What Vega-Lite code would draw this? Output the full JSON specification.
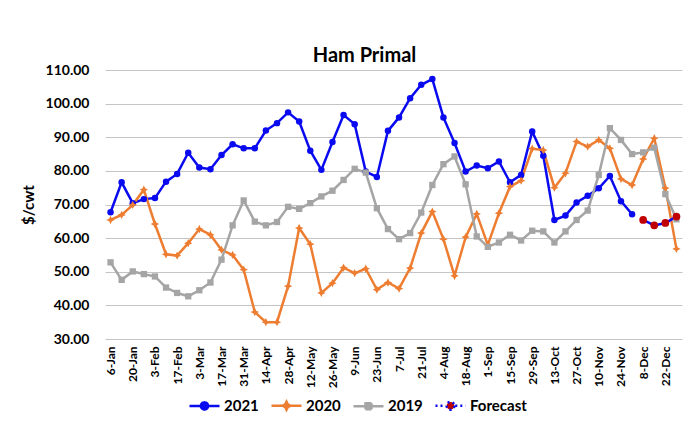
{
  "$schema": "https://vega.github.io/schema/vega-lite/v6.json",
  "width": 577,
  "height": 269,
  "autosize": {"type": "none"},
  "padding": {"left": 105, "top": 70, "right": 12, "bottom": 105},
  "background": "white",
  "config": {"view": {"stroke": null}, "font": "Lato"},
  "title": {
    "text": "Ham Primal",
    "font": "Lato",
    "fontSize": 20,
    "fontWeight": "bold",
    "color": "#000000",
    "anchor": "middle",
    "dx": -29,
    "dy": 27,
    "baseline": "alphabetic",
    "offset": 8
  },
  "data": {
    "values": [
      {"s": "2021", "w": "6-Jan", "v": 67.7}, {"s": "2021", "w": "13-Jan", "v": 76.6}, {"s": "2021", "w": "20-Jan", "v": 70.4}, {"s": "2021", "w": "27-Jan", "v": 71.6},
      {"s": "2021", "w": "3-Feb", "v": 71.9}, {"s": "2021", "w": "10-Feb", "v": 76.8}, {"s": "2021", "w": "17-Feb", "v": 79.1}, {"s": "2021", "w": "24-Feb", "v": 85.4},
      {"s": "2021", "w": "3-Mar", "v": 81.0}, {"s": "2021", "w": "10-Mar", "v": 80.5}, {"s": "2021", "w": "17-Mar", "v": 84.7}, {"s": "2021", "w": "24-Mar", "v": 87.9},
      {"s": "2021", "w": "31-Mar", "v": 86.7}, {"s": "2021", "w": "7-Apr", "v": 86.7}, {"s": "2021", "w": "14-Apr", "v": 92.0}, {"s": "2021", "w": "21-Apr", "v": 94.2},
      {"s": "2021", "w": "28-Apr", "v": 97.4}, {"s": "2021", "w": "5-May", "v": 94.7}, {"s": "2021", "w": "12-May", "v": 86.0}, {"s": "2021", "w": "19-May", "v": 80.3},
      {"s": "2021", "w": "26-May", "v": 88.6}, {"s": "2021", "w": "2-Jun", "v": 96.6}, {"s": "2021", "w": "9-Jun", "v": 93.9}, {"s": "2021", "w": "16-Jun", "v": 79.8},
      {"s": "2021", "w": "23-Jun", "v": 78.2}, {"s": "2021", "w": "30-Jun", "v": 91.9}, {"s": "2021", "w": "7-Jul", "v": 95.9}, {"s": "2021", "w": "14-Jul", "v": 101.6},
      {"s": "2021", "w": "21-Jul", "v": 105.6}, {"s": "2021", "w": "28-Jul", "v": 107.3}, {"s": "2021", "w": "4-Aug", "v": 95.9}, {"s": "2021", "w": "11-Aug", "v": 88.3},
      {"s": "2021", "w": "18-Aug", "v": 79.8}, {"s": "2021", "w": "25-Aug", "v": 81.6}, {"s": "2021", "w": "1-Sep", "v": 80.8}, {"s": "2021", "w": "8-Sep", "v": 82.8},
      {"s": "2021", "w": "15-Sep", "v": 76.6}, {"s": "2021", "w": "22-Sep", "v": 78.8}, {"s": "2021", "w": "29-Sep", "v": 91.7}, {"s": "2021", "w": "6-Oct", "v": 84.5},
      {"s": "2021", "w": "13-Oct", "v": 65.4}, {"s": "2021", "w": "20-Oct", "v": 66.7}, {"s": "2021", "w": "27-Oct", "v": 70.6}, {"s": "2021", "w": "3-Nov", "v": 72.6},
      {"s": "2021", "w": "10-Nov", "v": 74.8}, {"s": "2021", "w": "17-Nov", "v": 78.5}, {"s": "2021", "w": "24-Nov", "v": 71.0}, {"s": "2021", "w": "1-Dec", "v": 67.1},

      {"s": "2020", "w": "6-Jan", "v": 65.4}, {"s": "2020", "w": "13-Jan", "v": 66.9}, {"s": "2020", "w": "20-Jan", "v": 69.9}, {"s": "2020", "w": "27-Jan", "v": 74.4},
      {"s": "2020", "w": "3-Feb", "v": 64.2}, {"s": "2020", "w": "10-Feb", "v": 55.2}, {"s": "2020", "w": "17-Feb", "v": 54.8}, {"s": "2020", "w": "24-Feb", "v": 58.5},
      {"s": "2020", "w": "3-Mar", "v": 62.7}, {"s": "2020", "w": "10-Mar", "v": 61.0}, {"s": "2020", "w": "17-Mar", "v": 56.5}, {"s": "2020", "w": "24-Mar", "v": 55.0},
      {"s": "2020", "w": "31-Mar", "v": 50.6}, {"s": "2020", "w": "7-Apr", "v": 38.0}, {"s": "2020", "w": "14-Apr", "v": 35.0}, {"s": "2020", "w": "21-Apr", "v": 35.0},
      {"s": "2020", "w": "28-Apr", "v": 45.7}, {"s": "2020", "w": "5-May", "v": 63.0}, {"s": "2020", "w": "12-May", "v": 58.2}, {"s": "2020", "w": "19-May", "v": 43.7},
      {"s": "2020", "w": "26-May", "v": 46.6}, {"s": "2020", "w": "2-Jun", "v": 51.2}, {"s": "2020", "w": "9-Jun", "v": 49.6}, {"s": "2020", "w": "16-Jun", "v": 50.9},
      {"s": "2020", "w": "23-Jun", "v": 44.7}, {"s": "2020", "w": "30-Jun", "v": 46.8}, {"s": "2020", "w": "7-Jul", "v": 45.0}, {"s": "2020", "w": "14-Jul", "v": 51.1},
      {"s": "2020", "w": "21-Jul", "v": 61.5}, {"s": "2020", "w": "28-Jul", "v": 67.9}, {"s": "2020", "w": "4-Aug", "v": 59.7}, {"s": "2020", "w": "11-Aug", "v": 48.8},
      {"s": "2020", "w": "18-Aug", "v": 60.3}, {"s": "2020", "w": "25-Aug", "v": 67.2}, {"s": "2020", "w": "1-Sep", "v": 58.0}, {"s": "2020", "w": "8-Sep", "v": 67.4},
      {"s": "2020", "w": "15-Sep", "v": 75.3}, {"s": "2020", "w": "22-Sep", "v": 77.1}, {"s": "2020", "w": "29-Sep", "v": 86.6}, {"s": "2020", "w": "6-Oct", "v": 86.2},
      {"s": "2020", "w": "13-Oct", "v": 75.0}, {"s": "2020", "w": "20-Oct", "v": 79.3}, {"s": "2020", "w": "27-Oct", "v": 88.7}, {"s": "2020", "w": "3-Nov", "v": 87.2},
      {"s": "2020", "w": "10-Nov", "v": 89.2}, {"s": "2020", "w": "17-Nov", "v": 86.7}, {"s": "2020", "w": "24-Nov", "v": 77.6}, {"s": "2020", "w": "1-Dec", "v": 75.8},
      {"s": "2020", "w": "8-Dec", "v": 83.5}, {"s": "2020", "w": "15-Dec", "v": 89.7}, {"s": "2020", "w": "22-Dec", "v": 74.9}, {"s": "2020", "w": "29-Dec", "v": 56.8},

      {"s": "2019", "w": "6-Jan", "v": 52.8}, {"s": "2019", "w": "13-Jan", "v": 47.6}, {"s": "2019", "w": "20-Jan", "v": 50.1}, {"s": "2019", "w": "27-Jan", "v": 49.3},
      {"s": "2019", "w": "3-Feb", "v": 48.6}, {"s": "2019", "w": "10-Feb", "v": 45.3}, {"s": "2019", "w": "17-Feb", "v": 43.7}, {"s": "2019", "w": "24-Feb", "v": 42.7},
      {"s": "2019", "w": "3-Mar", "v": 44.5}, {"s": "2019", "w": "10-Mar", "v": 46.8}, {"s": "2019", "w": "17-Mar", "v": 53.6}, {"s": "2019", "w": "24-Mar", "v": 63.8},
      {"s": "2019", "w": "31-Mar", "v": 71.2}, {"s": "2019", "w": "7-Apr", "v": 64.9}, {"s": "2019", "w": "14-Apr", "v": 63.8}, {"s": "2019", "w": "21-Apr", "v": 64.8},
      {"s": "2019", "w": "28-Apr", "v": 69.3}, {"s": "2019", "w": "5-May", "v": 68.7}, {"s": "2019", "w": "12-May", "v": 70.4}, {"s": "2019", "w": "19-May", "v": 72.4},
      {"s": "2019", "w": "26-May", "v": 74.1}, {"s": "2019", "w": "2-Jun", "v": 77.3}, {"s": "2019", "w": "9-Jun", "v": 80.6}, {"s": "2019", "w": "16-Jun", "v": 79.5},
      {"s": "2019", "w": "23-Jun", "v": 68.9}, {"s": "2019", "w": "30-Jun", "v": 62.7}, {"s": "2019", "w": "7-Jul", "v": 59.7}, {"s": "2019", "w": "14-Jul", "v": 61.5},
      {"s": "2019", "w": "21-Jul", "v": 67.6}, {"s": "2019", "w": "28-Jul", "v": 75.8}, {"s": "2019", "w": "4-Aug", "v": 82.0}, {"s": "2019", "w": "11-Aug", "v": 84.3},
      {"s": "2019", "w": "18-Aug", "v": 76.0}, {"s": "2019", "w": "25-Aug", "v": 60.5}, {"s": "2019", "w": "1-Sep", "v": 57.4}, {"s": "2019", "w": "8-Sep", "v": 58.7},
      {"s": "2019", "w": "15-Sep", "v": 61.0}, {"s": "2019", "w": "22-Sep", "v": 59.3}, {"s": "2019", "w": "29-Sep", "v": 62.2}, {"s": "2019", "w": "6-Oct", "v": 62.0},
      {"s": "2019", "w": "13-Oct", "v": 58.7}, {"s": "2019", "w": "20-Oct", "v": 62.0}, {"s": "2019", "w": "27-Oct", "v": 65.4}, {"s": "2019", "w": "3-Nov", "v": 68.2},
      {"s": "2019", "w": "10-Nov", "v": 78.8}, {"s": "2019", "w": "17-Nov", "v": 92.7}, {"s": "2019", "w": "24-Nov", "v": 89.2}, {"s": "2019", "w": "1-Dec", "v": 85.0},
      {"s": "2019", "w": "8-Dec", "v": 85.5}, {"s": "2019", "w": "15-Dec", "v": 86.9}, {"s": "2019", "w": "22-Dec", "v": 73.1}, {"s": "2019", "w": "29-Dec", "v": 65.6},

      {"s": "Forecast", "w": "8-Dec", "v": 65.4}, {"s": "Forecast", "w": "15-Dec", "v": 63.8}, {"s": "Forecast", "w": "22-Dec", "v": 64.5}, {"s": "Forecast", "w": "29-Dec", "v": 66.4}
    ]
  },
  "encoding": {
    "x": {
      "field": "w",
      "type": "ordinal",
      "scale": {
        "type": "point",
        "padding": 0.5,
        "domain": ["6-Jan","13-Jan","20-Jan","27-Jan","3-Feb","10-Feb","17-Feb","24-Feb","3-Mar","10-Mar","17-Mar","24-Mar","31-Mar","7-Apr","14-Apr","21-Apr","28-Apr","5-May","12-May","19-May","26-May","2-Jun","9-Jun","16-Jun","23-Jun","30-Jun","7-Jul","14-Jul","21-Jul","28-Jul","4-Aug","11-Aug","18-Aug","25-Aug","1-Sep","8-Sep","15-Sep","22-Sep","29-Sep","6-Oct","13-Oct","20-Oct","27-Oct","3-Nov","10-Nov","17-Nov","24-Nov","1-Dec","8-Dec","15-Dec","22-Dec","29-Dec"]
      },
      "axis": {
        "title": null,
        "values": ["6-Jan","20-Jan","3-Feb","17-Feb","3-Mar","17-Mar","31-Mar","14-Apr","28-Apr","12-May","26-May","9-Jun","23-Jun","7-Jul","21-Jul","4-Aug","18-Aug","1-Sep","15-Sep","29-Sep","13-Oct","27-Oct","10-Nov","24-Nov","8-Dec","22-Dec"],
        "labelAngle": -90,
        "labelAlign": "right",
        "labelBaseline": "middle",
        "labelPadding": 7,
        "labelFont": "Lato",
        "labelFontSize": 12,
        "labelFontWeight": "bold",
        "labelColor": "#000000",
        "domain": false,
        "ticks": false,
        "grid": false
      }
    },
    "y": {
      "field": "v",
      "type": "quantitative",
      "scale": {"domain": [30, 110], "nice": false, "zero": false},
      "axis": {
        "values": [30, 40, 50, 60, 70, 80, 90, 100, 110],
        "format": ".2f",
        "title": "$/cwt",
        "titleFont": "Lato",
        "titleFontSize": 15,
        "titleFontWeight": "bold",
        "titleColor": "#000000",
        "titlePadding": 9,
        "labelFont": "Lato",
        "labelFontSize": 14,
        "labelFontWeight": "bold",
        "labelColor": "#000000",
        "labelPadding": 16,
        "domain": false,
        "ticks": false,
        "grid": true,
        "gridColor": "#c4c4c4",
        "gridWidth": 1
      }
    }
  },
  "layer": [
    {
      "mark": {"type": "line", "strokeWidth": 2.5},
      "encoding": {
        "stroke": {
          "field": "s",
          "type": "nominal",
          "scale": {
            "domain": ["2021", "2020", "2019", "Forecast"],
            "range": ["#0a0af0", "#ED7D31", "#A5A5A5", "#0a0af0"]
          },
          "legend": {
            "orient": "none",
            "legendX": 83,
            "legendY": 319,
            "direction": "horizontal",
            "title": null,
            "padding": 0,
            "symbolSize": 900,
            "symbolType": "M-1,0H1",
            "symbolStrokeWidth": 2.5,
            "symbolOpacity": 1,
            "labelFont": "Lato",
            "labelFontSize": 15,
            "labelFontWeight": "bold",
            "labelColor": "#000000",
            "labelOffset": 3,
            "columnPadding": 7,
            "encode": {
              "symbols": {
                "update": {
                  "shape": {"signal": "datum.value === '2021' ? 'M-1,0H1M0.24,0A0.24,0.24 0 1,1 -0.24,0A0.24,0.24 0 1,1 0.24,0Z' : datum.value === '2020' ? 'M-1,0H1M0,-0.27L0.09,-0.09L0.27,0L0.09,0.09L0,0.27L-0.09,0.09L-0.27,0L-0.09,-0.09Z' : datum.value === '2019' ? 'M-1,0H1M-0.2,-0.2H0.2V0.2H-0.2Z' : 'M-1,0H-0.32M0.32,0H1M0.26,0A0.26,0.26 0 1,1 -0.26,0A0.26,0.26 0 1,1 0.26,0Z'"},
                  "fill": {"signal": "datum.value === '2021' ? '#0a0af0' : datum.value === '2020' ? '#ED7D31' : datum.value === '2019' ? '#A5A5A5' : '#C00000'"},
                  "fillOpacity": {"value": 1},
                  "strokeDash": {"signal": "datum.value === 'Forecast' ? [2, 3] : [1, 0]"}
                }
              }
            }
          }
        }
      }
    },
    {
      "transform": [{"filter": "datum.s === '2021'"}],
      "mark": {"type": "point", "shape": "circle", "filled": true, "size": 42, "color": "#0a0af0", "opacity": 1}
    },
    {
      "transform": [{"filter": "datum.s === '2020'"}],
      "mark": {"type": "point", "shape": "M0,-1L0.33,-0.33L1,0L0.33,0.33L0,1L-0.33,0.33L-1,0L-0.33,-0.33Z", "filled": true, "size": 70, "color": "#ED7D31", "opacity": 1}
    },
    {
      "transform": [{"filter": "datum.s === '2019'"}],
      "mark": {"type": "point", "shape": "square", "filled": true, "size": 40, "color": "#A5A5A5", "opacity": 1}
    },
    {
      "transform": [{"filter": "datum.s === 'Forecast'"}],
      "mark": {"type": "point", "shape": "circle", "filled": true, "size": 60, "color": "#C00000", "opacity": 1}
    }
  ]
}
